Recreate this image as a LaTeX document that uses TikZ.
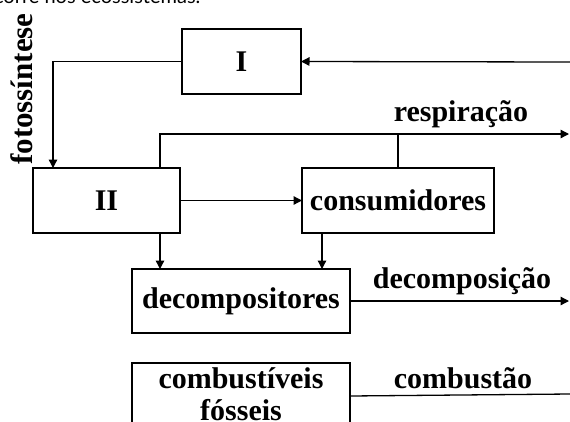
\documentclass[tikz,border=0pt]{standalone}
\usepackage{fontspec}
\setmainfont{Liberation Serif}
\newfontfamily\topfont{Lato}
\usetikzlibrary{arrows.meta}

\tikzset{
  every box/.style={draw, inner sep=0pt, outer sep=0pt, minimum height=65pt,
    align=center, font=\fontsize{30}{32}\selectfont\bfseries},
  flow label/.style={anchor=base, inner sep=0pt, font=\fontsize{30}{32}\selectfont\bfseries}
}

\begin{document}
\begin{tikzpicture}[x=1pt, y=-1pt, line width=1.3pt,
  >={Triangle[length=8.5pt, width=8.5pt]}]

\useasboundingbox (0,0) rectangle (570,421);

% text cut off at the top
\node [anchor=base east, inner sep=0pt, font=\topfont\fontsize{20}{22}\selectfont] (caption) at (201,3) {corre nos ecossistemas.};

% define boxes
\node [every box/.try, minimum width=119pt] (I) at (241.5,61.5) {I};
\node [every box/.try, minimum width=147pt] (II) at (106.5,200.5) {II};
\node [every box/.try, minimum width=192pt] (cons) at (398,200.5) {consumidores};
\node [every box/.try, minimum width=218pt, minimum height=64pt] (decomp) at (241,301) {decompositores};
\node [every box/.try, minimum width=218pt, minimum height=62pt] (comb) at (241,394) {combust\'iveis\\f\'osseis};

% free ends at the right edge
\coordinate (in-I) at (570,62);
\coordinate (out-resp) at (569,134);
\coordinate (out-decomp) at (569,301);
\coordinate (out-comb) at (570,396);

% fotossintese
\draw [->] (I.west) -| ([xshift=20pt]II.north west);
\node [flow label, rotate=90, font=\fontsize{31}{33}\selectfont\bfseries] (fotoL) at (32,89) {fotoss\'intese};
\draw [->] (in-I) -- (I.east);

% respiracao
\draw [->] ([xshift=-20pt]II.north east) |- (out-resp);
\draw (cons.north) -- (cons.north |- out-resp);
\node [flow label] (respL) at (461,121) {respira\c{c}\~ao};

% flow between the boxes
\draw [->] (II.east) -- (cons.west);
\draw [->] ([xshift=-20pt]II.south east) coordinate (from-II) -- (from-II |- decomp.north);
\draw [->] ([xshift=20pt]cons.south west) coordinate (from-cons) -- (from-cons |- decomp.north);

% decomposicao
\draw [->] (decomp.east) -- (decomp.east -| out-decomp);
\node [flow label] (decompL) at (462,288) {decomposi\c{c}\~ao};

% combustao
\draw ([yshift=-2pt]comb.east) -- (comb.east -| out-comb);
\node [flow label] (combL) at (463,388) {combust\~ao};

\end{tikzpicture}
\end{document}
